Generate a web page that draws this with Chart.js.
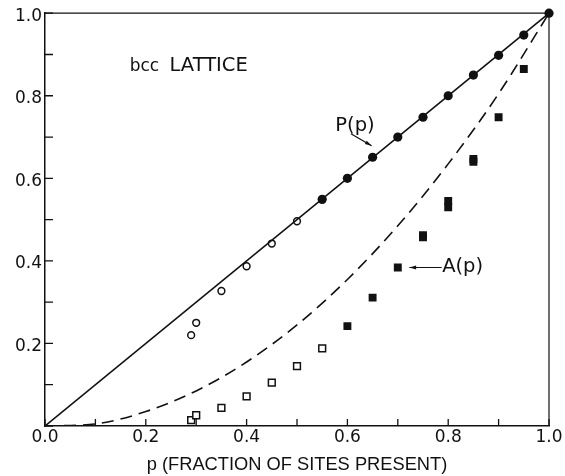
<!DOCTYPE html>
<html>
<head>
<meta charset="utf-8">
<script src="https://cdn.jsdelivr.net/npm/chart.js@4.4.1/dist/chart.umd.min.js"></script>
<style>
  html, body { margin: 0; padding: 0; background: #fff; }
  #wrap { width: 565px; height: 476px; position: relative; }
</style>
</head>
<body>
<div id="wrap"><canvas id="chart" width="565" height="476"></canvas></div>
<script>
// P(p) reference line (solid)
const pLineX = [0.0, 1.0];
const pLineY = [0.0, 1.0];

// A(p) dashed curve
const aCurveX = [0.0, 0.1, 0.2, 0.3, 0.4, 0.5, 0.6, 0.7, 0.8, 0.9, 1.0];
const aCurveY = [0.0, 0.005, 0.035, 0.085, 0.155, 0.245, 0.355, 0.485, 0.635, 0.805, 1.0];

// P(p) points, filled and open circles
const pFilledX = [0.55, 0.6, 0.65, 0.7, 0.75, 0.8, 0.85, 0.9, 0.95, 1.0];
const pFilledY = [0.549, 0.6, 0.651, 0.70, 0.748, 0.80, 0.85, 0.898, 0.947, 1.0];
const pOpenX = [0.29, 0.30, 0.35, 0.40, 0.45, 0.50];
const pOpenY = [0.22, 0.25, 0.327, 0.387, 0.442, 0.496];

// A(p) points, filled and open squares
const aFilledX = [0.6, 0.65, 0.7, 0.75, 0.75, 0.8, 0.8, 0.85, 0.85, 0.9, 0.95];
const aFilledY = [0.242, 0.311, 0.384, 0.457, 0.462, 0.53, 0.545, 0.64, 0.647, 0.748, 0.865];
const aOpenX = [0.29, 0.30, 0.35, 0.40, 0.45, 0.50, 0.55];
const aOpenY = [0.014, 0.026, 0.044, 0.072, 0.105, 0.145, 0.188];

// axis ticks (labels every 0.2, marks every 0.1)
const tickStep = 0.1;
const axisMin = 0.0;
const axisMax = 1.0;

function pts(xs, ys) {
  return xs.map((x, i) => ({ x: x, y: ys[i] }));
}

function tickLabel(value) {
  const n = Math.round(value * 10);
  return n % 2 === 0 ? (n / 10).toFixed(1) : '';
}

// frame, inward tick marks and the annotations
const decorations = {
  id: 'decorations',
  afterDraw(chart) {
    const ctx = chart.ctx;
    const area = chart.chartArea;
    const xs = chart.scales.x;
    const ys = chart.scales.y;
    ctx.save();

    // top and right edges of the box
    ctx.strokeStyle = '#111';
    ctx.lineWidth = 1.2;
    ctx.beginPath();
    ctx.moveTo(area.left, area.top);
    ctx.lineTo(area.right, area.top);
    ctx.lineTo(area.right, area.bottom);
    ctx.stroke();

    // tick marks pointing into the plot
    ctx.lineWidth = 1.3;
    ctx.beginPath();
    xs.ticks.forEach(t => {
      const px = xs.getPixelForValue(t.value);
      ctx.moveTo(px, area.bottom);
      ctx.lineTo(px, area.bottom - 7);
    });
    ys.ticks.forEach(t => {
      const py = ys.getPixelForValue(t.value);
      ctx.moveTo(area.left, py);
      ctx.lineTo(area.left + 8, py);
    });
    ctx.stroke();

    ctx.fillStyle = '#111';
    ctx.textBaseline = 'middle';

    // lattice caption
    ctx.textAlign = 'left';
    ctx.font = '17px "DejaVu Sans", sans-serif';
    ctx.fillText('bcc', xs.getPixelForValue(0.168), ys.getPixelForValue(0.871));
    ctx.font = '19.5px "DejaVu Sans", sans-serif';
    ctx.fillText('LATTICE', xs.getPixelForValue(0.247), ys.getPixelForValue(0.873));

    // P(p) label with arrow
    ctx.font = '19.5px "DejaVu Sans", sans-serif';
    ctx.textAlign = 'center';
    ctx.fillText('P(p)', xs.getPixelForValue(0.615), ys.getPixelForValue(0.728));
    arrow(ctx, xs.getPixelForValue(0.607), ys.getPixelForValue(0.708),
               xs.getPixelForValue(0.648), ys.getPixelForValue(0.679));

    // A(p) label with arrow
    ctx.textAlign = 'left';
    ctx.fillText('A(p)', xs.getPixelForValue(0.788), ys.getPixelForValue(0.386));
    arrow(ctx, xs.getPixelForValue(0.787), ys.getPixelForValue(0.384),
               xs.getPixelForValue(0.723), ys.getPixelForValue(0.384));

    ctx.restore();
  }
};

function arrow(ctx, x1, y1, x2, y2) {
  const a = Math.atan2(y2 - y1, x2 - x1);
  ctx.lineWidth = 1.2;
  ctx.beginPath();
  ctx.moveTo(x1, y1);
  ctx.lineTo(x2, y2);
  ctx.stroke();
  ctx.beginPath();
  ctx.moveTo(x2, y2);
  ctx.lineTo(x2 - 7 * Math.cos(a - 0.28), y2 - 7 * Math.sin(a - 0.28));
  ctx.lineTo(x2 - 7 * Math.cos(a + 0.28), y2 - 7 * Math.sin(a + 0.28));
  ctx.closePath();
  ctx.fill();
}

const tickFont = { family: '"DejaVu Sans", sans-serif', size: 17 };

new Chart(document.getElementById('chart'), {
  type: 'scatter',
  data: {
    datasets: [
      {
        label: 'P(p) line',
        data: pts(pLineX, pLineY),
        showLine: true,
        borderColor: '#111',
        borderWidth: 1.6,
        pointRadius: 0
      },
      {
        label: 'A(p) curve',
        data: pts(aCurveX, aCurveY),
        showLine: true,
        cubicInterpolationMode: 'monotone',
        borderColor: '#111',
        borderWidth: 1.6,
        borderDash: [12, 7],
        pointRadius: 0
      },
      {
        label: 'P(p) filled',
        data: pts(pFilledX, pFilledY),
        clip: false,
        pointStyle: 'circle',
        pointRadius: 4.6,
        backgroundColor: '#111',
        borderColor: '#111',
        borderWidth: 0
      },
      {
        label: 'P(p) open',
        data: pts(pOpenX, pOpenY),
        pointStyle: 'circle',
        pointRadius: 3.4,
        backgroundColor: '#fff',
        borderColor: '#111',
        borderWidth: 1.5
      },
      {
        label: 'A(p) filled',
        data: pts(aFilledX, aFilledY),
        pointStyle: 'rect',
        pointRadius: 5.6,
        backgroundColor: '#111',
        borderColor: '#111',
        borderWidth: 0
      },
      {
        label: 'A(p) open',
        data: pts(aOpenX, aOpenY),
        pointStyle: 'rect',
        pointRadius: 4.8,
        backgroundColor: '#fff',
        borderColor: '#111',
        borderWidth: 1.5
      }
    ]
  },
  options: {
    responsive: false,
    animation: false,
    devicePixelRatio: 1,
    layout: { padding: { top: 13, right: 16, left: 0, bottom: 0 } },
    plugins: {
      legend: { display: false },
      tooltip: { enabled: false }
    },
    scales: {
      x: {
        type: 'linear',
        min: axisMin,
        max: axisMax,
        grid: { display: false, drawTicks: false },
        border: { display: true, color: '#111', width: 1.5 },
        ticks: {
          stepSize: tickStep,
          autoSkip: false,
          maxRotation: 0,
          padding: 1,
          color: '#111',
          font: tickFont,
          callback: tickLabel
        },
        title: {
          display: true,
          text: 'p (FRACTION OF SITES PRESENT)',
          color: '#111',
          font: { family: '"Liberation Sans", Arial, sans-serif', size: 18.3 },
          padding: { top: 0, bottom: 0 }
        },
        afterFit(scale) { scale.height = 50; }
      },
      y: {
        type: 'linear',
        min: axisMin,
        max: axisMax,
        grid: { display: false, drawTicks: false },
        border: { display: true, color: '#111', width: 1.5 },
        ticks: {
          stepSize: tickStep,
          autoSkip: false,
          padding: 3,
          labelOffset: 3,
          color: '#111',
          font: tickFont,
          // the shared 0.0 sits under the origin on the x axis only
          callback: value => value === axisMin ? '' : tickLabel(value)
        },
        afterFit(scale) { scale.width = 45; }
      }
    }
  },
  plugins: [decorations]
});
</script>
</body>
</html>
